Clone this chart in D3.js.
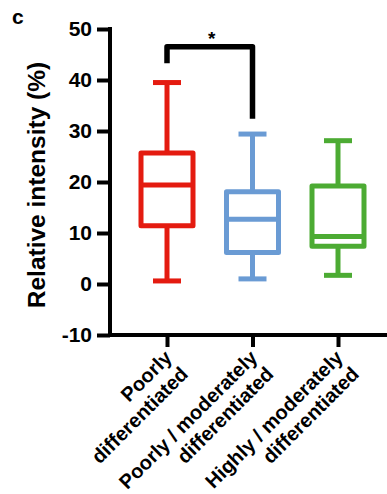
<!DOCTYPE html>
<html>
<head>
<meta charset="utf-8">
<script src="https://cdn.jsdelivr.net/npm/d3@7"></script>
<style>
  body { margin: 0; background: #fff; }
  text { font-family: "Liberation Sans", Arial, sans-serif; font-weight: bold; }
</style>
</head>
<body>
<div id="plot"></div>
<script>
// Chart data
let groups = ['Poorly differentiated', 'Poorly / moderately differentiated', 'Highly / moderately differentiated']
let labelLines = [['Poorly', 'differentiated'], ['Poorly / moderately', 'differentiated'], ['Highly / moderately', 'differentiated']]
let mins = [0.6, 1.0, 1.7]
let q1s = [11.4, 6.2, 7.4]
let medians = [19.4, 12.7, 9.3]
let q3s = [25.7, 18.1, 19.2]
let maxs = [39.5, 29.4, 28.1]
let colors = ['#e41b10', '#6a9bd4', '#4cab33']
let yTicks = [-10, 0, 10, 20, 30, 40, 50]
// significance bracket: from group 0 to group 1
let sigPair = [0, 1]
let sigTop = 46.5
let sigLegs = [43.3, 32.4]
let sigLabel = '*'

// Plot constants
let W = 387, H = 494
let margin = {t: 29, r: 0, b: 159, l: 110}

let svg = d3.select('#plot')
  .append('svg')
  .attr('width', W)
  .attr('height', H)

let y = d3.scaleLinear()
  .domain([-10, 50])
  .range([H - margin.b, margin.t])

let x = d3.scalePoint()
  .domain(groups)
  .range([167, 338])

let boxW = 52
let capW = 28

// Y axis
let yAxis = svg.append('g')
  .attr('transform', `translate(${margin.l},0)`)
  .call(d3.axisLeft(y).tickValues(yTicks).tickSize(13).tickSizeOuter(0).tickPadding(5)
    .tickFormat(function(d) { return String(d) }))
yAxis.select('.domain').attr('stroke-width', 4).attr('stroke', '#000')
  .attr('d', `M0,${y(50) - 2}V${y(-10) + 2}`)
yAxis.selectAll('.tick line').attr('stroke-width', 4).attr('stroke', '#000')
yAxis.selectAll('.tick text')
  .style('font-size', '21px')
  .attr('fill', '#000')

// X axis
let xAxis = svg.append('g')
  .attr('transform', `translate(0,${y(-10)})`)
  .call(d3.axisBottom(x).tickSize(12).tickSizeOuter(0))
xAxis.select('.domain').attr('stroke-width', 4).attr('stroke', '#000')
  .attr('d', `M${margin.l - 2},0H${W}`)
xAxis.selectAll('.tick line').attr('stroke-width', 4).attr('stroke', '#000')
xAxis.selectAll('.tick text').remove()

// X labels, rotated
let xLabels = svg.append('g')
  .selectAll('text')
  .data(groups)
  .enter().append('text')
  .attr('transform', function(d) { return `translate(${x(d) + 6},${y(-10) + 24}) rotate(-45)` })
  .attr('text-anchor', 'end')
  .style('font-size', '20px')

xLabels.selectAll('tspan')
  .data(function(d, i) { return labelLines[i] })
  .enter().append('tspan')
  .attr('x', 0)
  .attr('y', function(d, j) { return j * 23 })
  .text(function(d) { return d })

// Boxes
let boxes = svg.append('g')
  .selectAll('g')
  .data(groups)
  .enter().append('g')
  .attr('stroke', function(d, i) { return colors[i] })
  .attr('stroke-width', 5)
  .attr('fill', 'none')

boxes.append('line')
  .attr('x1', function(d) { return x(d) })
  .attr('x2', function(d) { return x(d) })
  .attr('y1', function(d, i) { return y(maxs[i]) })
  .attr('y2', function(d, i) { return y(q3s[i]) })
boxes.append('line')
  .attr('x1', function(d) { return x(d) })
  .attr('x2', function(d) { return x(d) })
  .attr('y1', function(d, i) { return y(q1s[i]) })
  .attr('y2', function(d, i) { return y(mins[i]) })
boxes.append('line')
  .attr('x1', function(d) { return x(d) - capW / 2 })
  .attr('x2', function(d) { return x(d) + capW / 2 })
  .attr('y1', function(d, i) { return y(maxs[i]) })
  .attr('y2', function(d, i) { return y(maxs[i]) })
boxes.append('line')
  .attr('x1', function(d) { return x(d) - capW / 2 })
  .attr('x2', function(d) { return x(d) + capW / 2 })
  .attr('y1', function(d, i) { return y(mins[i]) })
  .attr('y2', function(d, i) { return y(mins[i]) })
boxes.append('rect')
  .attr('x', function(d) { return x(d) - boxW / 2 })
  .attr('width', boxW)
  .attr('y', function(d, i) { return y(q3s[i]) })
  .attr('height', function(d, i) { return y(q1s[i]) - y(q3s[i]) })
  .attr('fill', '#fff')
  .attr('stroke-linejoin', 'round')
boxes.append('line')
  .attr('x1', function(d) { return x(d) - boxW / 2 })
  .attr('x2', function(d) { return x(d) + boxW / 2 })
  .attr('y1', function(d, i) { return y(medians[i]) })
  .attr('y2', function(d, i) { return y(medians[i]) })

// Significance bracket
let sx0 = x(groups[sigPair[0]]), sx1 = x(groups[sigPair[1]])
svg.append('path')
  .attr('d', `M${sx0},${y(sigLegs[0])}V${y(sigTop)}H${sx1}V${y(sigLegs[1])}`)
  .attr('fill', 'none')
  .attr('stroke', '#000')
  .attr('stroke-width', 5.5)
  .attr('stroke-linejoin', 'round')
svg.append('text')
  .attr('x', (sx0 + sx1) / 2 + 2)
  .attr('y', y(sigTop) - 2)
  .attr('text-anchor', 'middle')
  .style('font-size', '19px')
  .text(sigLabel)

// Y title
svg.append('text')
  .attr('transform', `translate(45,${(y(50) + y(-10)) / 2 + 3}) rotate(-90)`)
  .attr('text-anchor', 'middle')
  .style('font-size', '24.5px')
  .text('Relative intensity (%)')

// Panel letter
svg.append('text')
  .attr('x', 12)
  .attr('y', 24)
  .style('font-size', '21px')
  .text('c')
</script>
</body>
</html>
